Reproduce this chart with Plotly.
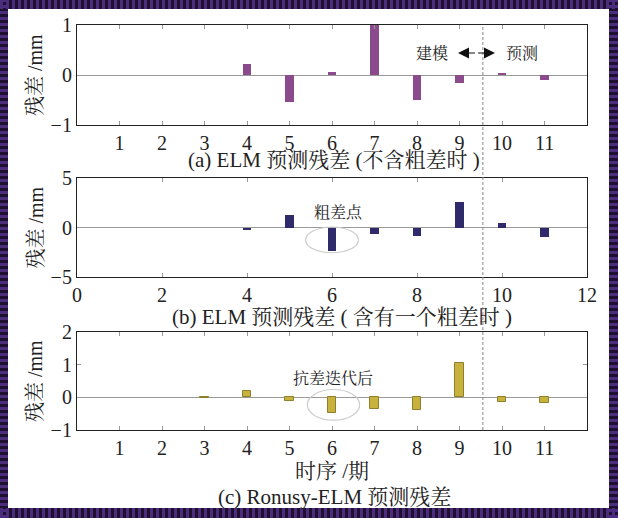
import plotly.graph_objects as go

W, H = 618, 518

# ---- data ----
periods = [1, 2, 3, 4, 5, 6, 7, 8, 9, 10, 11]
res_a = [None, None, None, 0.22, -0.54, 0.07, 1.0, -0.50, -0.15, 0.03, -0.09]
res_b = [None, None, None, -0.25, 1.3, -2.35, -0.67, -0.83, 2.6, 0.45, -1.0]
res_c = [None, None, -0.03, 0.18, -0.10, -0.47, -0.35, -0.38, 1.05, -0.14, -0.18]

ticks_a = [1, 2, 3, 4, 5, 6, 7, 8, 9, 10, 11]
ticks_b = [0, 2, 4, 6, 8, 10, 12]
ticks_c = [1, 2, 3, 4, 5, 6, 7, 8, 9, 10, 11]
yt_a = [-1, 0, 1]
yt_b = [-5, 0, 5]
yt_c = [-1, 0, 1, 2]

split_x = 9.55

cap_a = "(a) ELM 预测残差 (不含粗差时 )"
cap_b = "(b) ELM 预测残差 ( 含有一个粗差时 )"
cap_c = "(c) Ronusy-ELM 预测残差"
ytitle = "残差 /mm"
xtitle = "时序 /期"

FONT = "Liberation Serif, 'Noto Serif CJK SC', 'Noto Sans CJK SC', serif"


def fx(p):
    return p / W


def fy(p):
    return 1 - p / H


fig = go.Figure()
fig.add_trace(go.Bar(x=periods, y=res_a, width=0.2, marker=dict(color="#8A4A8C", line=dict(width=0)),
                     xaxis="x", yaxis="y"))
fig.add_trace(go.Bar(x=periods, y=res_b, width=0.2, marker=dict(color="#2E2A6C", line=dict(width=0)),
                     xaxis="x2", yaxis="y2"))
fig.add_trace(go.Bar(x=periods, y=res_c, width=0.2,
                     marker=dict(color="#C8B23E", line=dict(color="#8F7F2A", width=1)),
                     xaxis="x3", yaxis="y3"))

xdom = [fx(77), fx(587)]
doms = [[fy(125), fy(25)], [fy(277), fy(178)], [fy(430), fy(332)]]

axcommon = dict(showline=True, linecolor="#222", linewidth=1.2, mirror="allticks",
                ticks="inside", ticklen=4, tickcolor="#999", tickwidth=1,
                showgrid=False, automargin=False,
                tickfont=dict(size=20, color="#222", family=FONT))

layout = dict(width=W, height=H, margin=dict(l=0, r=0, t=0, b=0, pad=0), autosize=False,
              paper_bgcolor="#1F1030", plot_bgcolor="white", showlegend=False,
              font=dict(family=FONT, color="#222"), bargap=0)

xticksets = [ticks_a, ticks_b, ticks_c]
yticksets = [yt_a, yt_b, yt_c]
yranges = [[-1, 1], [-5, 5], [-1, 2]]
for i in range(3):
    sx = "" if i == 0 else str(i + 1)
    layout["xaxis" + sx] = dict(domain=xdom, anchor="y" + sx, range=[0, 12], tickvals=xticksets[i],
                                zeroline=False, **axcommon)
    layout["yaxis" + sx] = dict(domain=doms[i], anchor="x" + sx, range=yranges[i], tickvals=yticksets[i],
                                zeroline=True, zerolinecolor="#9a9a9a", zerolinewidth=1, **axcommon)

fig.update_layout(**layout)

shapes = []
# white interior
shapes.append(dict(type="rect", xref="paper", yref="paper", x0=fx(8), x1=fx(609), y0=fy(508), y1=fy(9),
                   fillcolor="white", line=dict(width=0), layer="below"))
# striped border
stripe = "#4C2C7C"
shapes.append(dict(type="line", xref="paper", yref="paper", x0=0, x1=1, y0=fy(4.5), y1=fy(4.5),
                   line=dict(color=stripe, width=9, dash="3px,3px"), layer="below"))
shapes.append(dict(type="line", xref="paper", yref="paper", x0=0, x1=1, y0=fy(513), y1=fy(513),
                   line=dict(color=stripe, width=10, dash="3px,3px"), layer="below"))
shapes.append(dict(type="line", xref="paper", yref="paper", x0=fx(4), x1=fx(4), y0=0, y1=1,
                   line=dict(color=stripe, width=8, dash="3px,3px"), layer="below"))
shapes.append(dict(type="line", xref="paper", yref="paper", x0=fx(613.5), x1=fx(613.5), y0=0, y1=1,
                   line=dict(color=stripe, width=9, dash="3px,3px"), layer="below"))
# modelling / prediction split line
shapes.append(dict(type="line", xref="x", yref="paper", x0=split_x, x1=split_x, y0=fy(430), y1=fy(25),
                   line=dict(color="#888", width=1, dash="3px,2px")))
# ellipses around the gross-error point
shapes.append(dict(type="circle", xref="x2", yref="y2", x0=5.38, x1=6.62, y0=-2.55, y1=0.05,
                   line=dict(color="#cccccc", width=1.2)))
shapes.append(dict(type="circle", xref="x3", yref="y3", x0=5.42, x1=6.65, y0=-0.70, y1=0.24,
                   line=dict(color="#cccccc", width=1.2)))
fig.update_layout(shapes=shapes)

ann = []


def txt(x, y, s, size, angle=0):
    ann.append(dict(x=fx(x), y=fy(y), xref="paper", yref="paper", text=s, showarrow=False,
                    xanchor="center", yanchor="middle", textangle=angle,
                    font=dict(size=size, family=FONT, color="#222")))


for yc in [(25 + 125) / 2, (178 + 277) / 2, (332 + 430) / 2]:
    txt(35, yc, ytitle, 20, -90)
txt(334, 160, cap_a, 21)
txt(342, 317, cap_b, 21)
txt(332, 471, xtitle, 21)
txt(334, 497, cap_c, 21)
txt(432, 53, "建模", 16)
txt(522, 53, "预测", 16)
txt(338, 212, "粗差点", 16)
txt(333, 378, "抗差迭代后", 16)

for tip, off in [(458, 18.5), (495, -18.5)]:
    ann.append(dict(x=fx(tip), y=fy(53), xref="paper", yref="paper", text="", showarrow=True,
                    ax=off, ay=0, arrowhead=2, arrowsize=2.2, arrowwidth=1, arrowcolor="#111"))

fig.update_layout(annotations=ann)
fig.write_html("out.html",
               post_script="document.body.style.margin='0';document.body.style.overflow='hidden';")
